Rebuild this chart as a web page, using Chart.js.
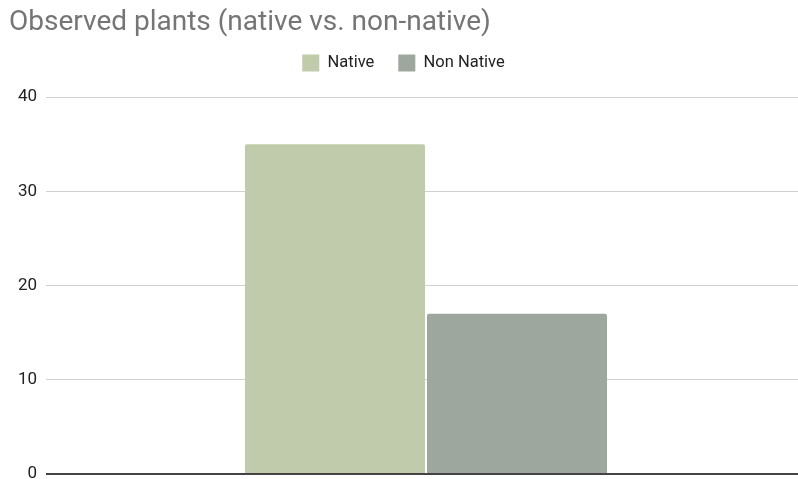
<!DOCTYPE html>
<html>
<head>
<meta charset="utf-8">
<script src="https://cdn.jsdelivr.net/npm/chart.js@4"></script>
<style>
html,body{margin:0;padding:0;background:#fff;overflow:hidden;}
canvas{display:block;}
</style>
</head>
<body>
<canvas id="c" width="798" height="479"></canvas>
<script>
const categories = ["Observed plants"];
const seriesNames = ["Native", "Non Native"];
const nativeValues = [35];
const nonNativeValues = [17];
const seriesColors = ["#c0cbac", "#9da79e"];
const yTicks = [0, 10, 20, 30, 40];

const legendGap = {
  id: 'legendGap',
  beforeLayout(chart) {
    const lg = chart.legend;
    if (lg && !lg._gapPatched) {
      const f = lg.fit;
      lg.fit = function () { f.call(this); this.height += 15.4; };
      lg._gapPatched = true;
    }
  },
  afterLayout(chart) {
    const x = chart.scales.x;
    if (x) {
      x.right = x.right + 8;
      x.width = x.right - x.left;
      x.configure();
    }
  }
};

new Chart(document.getElementById('c'), {
  type: 'bar',
  plugins: [legendGap],
  data: {
    labels: categories,
    datasets: [
      { label: seriesNames[0], data: nativeValues, backgroundColor: seriesColors[0], borderRadius: {topLeft: 2, topRight: 2}, borderSkipped: 'bottom' },
      { label: seriesNames[1], data: nonNativeValues, backgroundColor: seriesColors[1], borderRadius: {topLeft: 2, topRight: 2}, borderSkipped: 'bottom' }
    ]
  },
  options: {
    responsive: false,
    maintainAspectRatio: false,
    devicePixelRatio: 1,
    animation: false,
    layout: { autoPadding: false, padding: { left: 9, right: 0, top: 0, bottom: 5 } },
    datasets: { bar: { categoryPercentage: 0.479, barPercentage: 0.989 } },
    plugins: {
      title: {
        display: true,
        text: 'Observed plants (native vs. non-native)',
        align: 'start',
        color: '#757575',
        font: { family: 'Roboto', size: 28, weight: 'normal' },
        padding: { top: 6, bottom: -9 }
      },
      legend: {
        display: true,
        position: 'top',
        labels: {
          color: '#222',
          font: { family: 'Roboto', size: 16.5 },
          boxWidth: 17,
          boxHeight: 17,
          padding: 24
        }
      },
      tooltip: { enabled: false }
    },
    scales: {
      x: { display: false },
      y: {
        min: yTicks[0],
        max: yTicks[yTicks.length - 1],
        afterBuildTicks: (axis) => { axis.ticks = yTicks.map(v => ({ value: v })); },
        afterFit: (axis) => { axis.width = 37; axis.paddingTop = 0; axis.paddingBottom = 0; },
        ticks: { color: '#222', font: { family: 'Roboto', size: 17 }, padding: 9 },
        grid: {
          drawTicks: false,
          color: (ctx) => ctx.tick && ctx.tick.value === 0 ? '#444' : '#d0d0d0',
          lineWidth: (ctx) => ctx.tick && ctx.tick.value === 0 ? 2 : 1
        },
        border: { display: false }
      }
    }
  }
});
</script>
</body>
</html>
